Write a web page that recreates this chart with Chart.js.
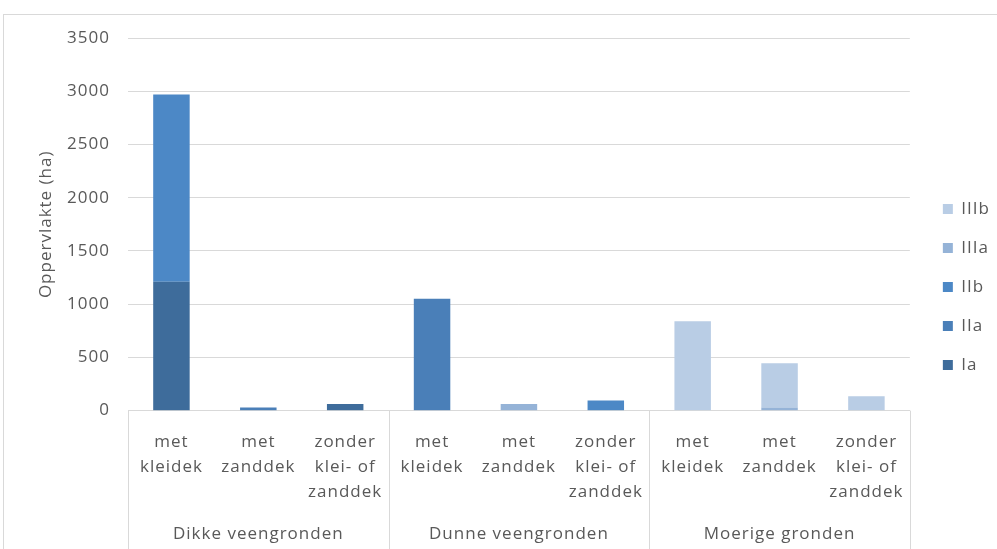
<!DOCTYPE html>
<html>
<head>
<meta charset="utf-8">
<script src="https://cdn.jsdelivr.net/npm/chart.js@4"></script>
<style>
  body { margin: 0; background: #fff; }
  #wrap {
    position: absolute; left: 3px; top: 14px;
    width: 993px; height: 534px;
    border-left: 1px solid #d9d9d9; border-top: 1px solid #d9d9d9;
  }
</style>
</head>
<body>
<div id="wrap"><canvas id="chart" width="993" height="534"></canvas></div>
<script>
const categories = [
    ['met', 'kleidek'], ['met', 'zanddek'], ['zonder', 'klei- of', 'zanddek'],
    ['met', 'kleidek'], ['met', 'zanddek'], ['zonder', 'klei- of', 'zanddek'],
    ['met', 'kleidek'], ['met', 'zanddek'], ['zonder', 'klei- of', 'zanddek']
];
const groups = ['Dikke veengronden', 'Dunne veengronden', 'Moerige gronden'];

const ia   = [1210, 0, 63, 0, 0, 0, 0, 0, 0];
const iia  = [0, 30, 0, 1050, 0, 0, 0, 0, 0];
const iib  = [1760, 0, 0, 0, 0, 94, 0, 0, 0];
const iiia = [0, 0, 0, 0, 63, 0, 0, 30, 0];
const iiib = [0, 0, 0, 0, 0, 0, 840, 415, 135];

const yTicks = [0, 500, 1000, 1500, 2000, 2500, 3000, 3500];

const font = { family: 'Open Sans', size: 17 };
const grey = '#595959';

// iets ruimere letters, zoals in het origineel
const spacing = {
    id: 'spacing',
    beforeUpdate(chart) { chart.ctx.letterSpacing = '1px'; },
    beforeDraw(chart) { chart.ctx.letterSpacing = '1px'; }
};

// legenda iets breder (plotvlak houdt eerder op), items wat naar rechts en omhoog
const legendTweak = {
    id: 'legendTweak',
    afterInit(chart) {
        const lg = chart.legend;
        const fit = lg.fit;
        lg.fit = function () { fit.call(this); this.width += 13; };
    },
    afterLayout(chart) {
        const lg = chart.legend;
        lg.left += 11;
        lg.right += 11;
        lg.top -= 4;
        lg.bottom -= 4;
    }
};

// lijnen tussen de groepen onder de x-as
const groupLines = {
    id: 'groupLines',
    afterDraw(chart) {
        const x = chart.scales.x;
        const half = (x.getPixelForValue(1) - x.getPixelForValue(0)) / 2;
        const ctx = chart.ctx;
        ctx.save();
        ctx.strokeStyle = '#d9d9d9';
        ctx.lineWidth = 1;
        [0, 3, 6, 9].forEach(i => {
            const px = Math.round(x.getPixelForValue(i) - half) + 0.5;
            ctx.beginPath();
            ctx.moveTo(px, chart.chartArea.bottom);
            ctx.lineTo(px, chart.height);
            ctx.stroke();
        });
        ctx.restore();
    }
};

const ctx = document.getElementById('chart').getContext('2d');
new Chart(ctx, {
    type: 'bar',
    data: {
        labels: categories,
        datasets: [
            { label: 'Ia', data: ia, backgroundColor: '#3e6c9b' },
            { label: 'IIa', data: iia, backgroundColor: '#4a7fb8' },
            { label: 'IIb', data: iib, backgroundColor: '#4c88c6' },
            { label: 'IIIa', data: iiia, backgroundColor: '#95b3d7' },
            { label: 'IIIb', data: iiib, backgroundColor: '#b9cde5' }
        ]
    },
    options: {
        responsive: false,
        animation: false,
        layout: { padding: { left: 30, right: -5, top: 23, bottom: 5 } },
        datasets: { bar: { barPercentage: 0.42, categoryPercentage: 1 } },
        plugins: {
            legend: {
                position: 'right',
                reverse: true,
                labels: { boxWidth: 10, boxHeight: 10, padding: 22, color: grey, font: font }
            },
            tooltip: { enabled: false }
        },
        scales: {
            x: {
                stacked: true,
                weight: 0,
                grid: { display: false, drawTicks: false },
                border: { color: '#d9d9d9' },
                ticks: { color: grey, font: { family: 'Open Sans', size: 17, lineHeight: 1.47 }, padding: 19, maxRotation: 0, autoSkip: false }
            },
            x2: {
                type: 'category',
                labels: groups,
                offset: true,
                position: 'bottom',
                weight: 1,
                grid: { display: false, drawTicks: false },
                border: { display: false },
                ticks: { color: grey, font: font, padding: 0, maxRotation: 0 }
            },
            y: {
                stacked: true,
                min: 0,
                max: yTicks[yTicks.length - 1],
                afterBuildTicks: s => { s.ticks = yTicks.map(v => ({ value: v })); },
                afterFit: s => { s.width = 94; },
                grid: { color: '#d9d9d9', tickColor: 'transparent', tickLength: 14 },
                border: { display: false },
                ticks: { color: grey, font: font, padding: 4, callback: v => String(v) },
                title: { display: true, text: 'Oppervlakte (ha)', color: grey, font: font, padding: { top: 2, bottom: 0 } }
            }
        }
    },
    plugins: [spacing, legendTweak, groupLines]
});
</script>
</body>
</html>
